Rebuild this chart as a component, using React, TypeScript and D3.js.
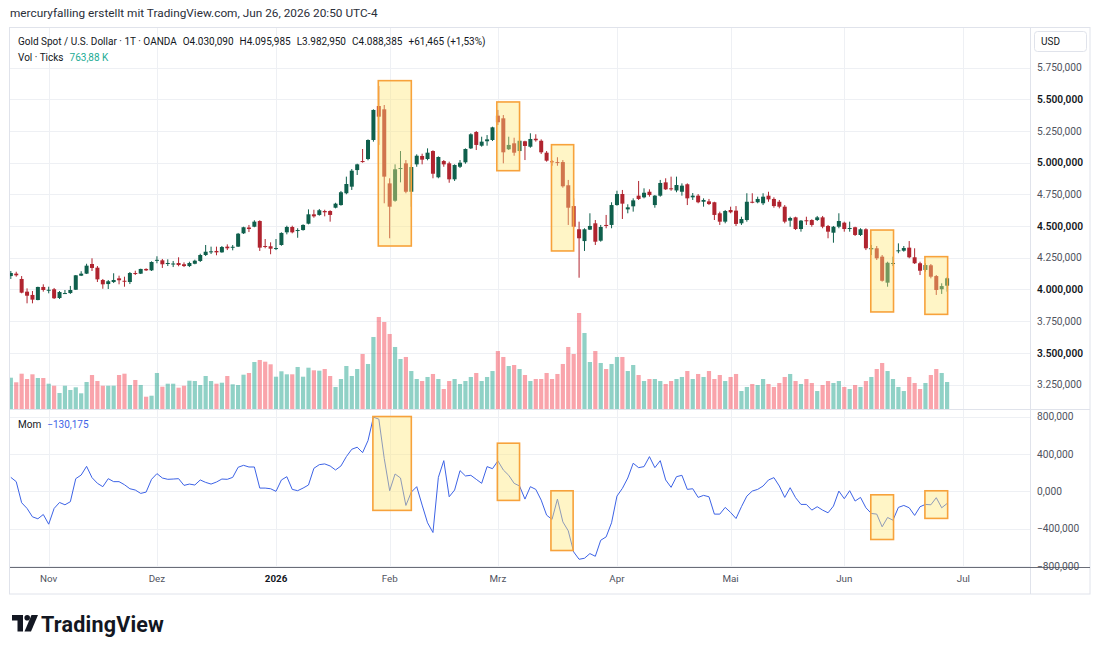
import React from "react";
import * as d3 from "d3";

// Daily XAU/USD candles (OANDA), Oct 23 2025 – Jun 26 2026, one entry per trading day
const opens = [
  4106, 4125, 4083, 3983, 3957, 3917, 4020, 3994, 4002, 3933,
  3968, 3972, 3998, 4109, 4125, 4201, 4172, 4075, 4043, 4059,
  4088, 4069, 4059, 4130, 4125, 4162, 4151, 4229, 4230, 4207,
  4203, 4209, 4199, 4185, 4203, 4225, 4272, 4296, 4304, 4293,
  4338, 4333, 4338, 4443, 4489, 4495, 4540, 4343, 4341, 4322,
  4351, 4451, 4493, 4464, 4469, 4519, 4593, 4588, 4619, 4619,
  4645, 4666, 4759, 4811, 4942, 5013, 5029, 5179, 5447, 5421,
  4837, 4700, 4950, 4995, 4771, 4987, 5053, 5029, 5092, 4885,
  5013, 4995, 4869, 4968, 5003, 5113, 5242, 5134, 5169, 5179,
  5371, 5350, 5106, 5153, 5092, 5169, 5126, 5189, 5173, 5079,
  5011, 5005, 5005, 4822, 4658, 4475, 4382, 4472, 4522, 4385,
  4509, 4509, 4666, 4753, 4632, 4656, 4740, 4727, 4771, 4666,
  4740, 4845, 4798, 4781, 4771, 4830, 4727, 4740, 4692, 4695,
  4688, 4601, 4535, 4627, 4622, 4522, 4548, 4692, 4688, 4680,
  4740, 4714, 4692, 4653, 4543, 4569, 4477, 4546, 4548, 4548,
  4569, 4501, 4448, 4495, 4527, 4479, 4491, 4430, 4475, 4317,
  4325, 4259, 4054, 4203, 4304, 4306, 4330, 4254, 4207, 4154,
  4191, 4106, 4002, 4030.09,
];

const highs = [
  4146, 4140, 4106, 4009, 3988, 4022, 4041, 4022, 4012, 3988,
  3996, 4028, 4114, 4144, 4203, 4246, 4185, 4083, 4075, 4128,
  4109, 4101, 4138, 4148, 4164, 4167, 4222, 4262, 4241, 4238,
  4225, 4254, 4214, 4219, 4235, 4282, 4351, 4338, 4338, 4343,
  4356, 4351, 4446, 4495, 4509, 4546, 4546, 4398, 4372, 4398,
  4451, 4503, 4503, 4483, 4514, 4632, 4629, 4635, 4629, 4625,
  4684, 4777, 4890, 4950, 4992, 5108, 5184, 5421, 5605, 5455,
  4877, 4987, 5092, 5021, 4982, 5066, 5071, 5113, 5098, 5050,
  5021, 5008, 4987, 5021, 5113, 5232, 5250, 5205, 5218, 5284,
  5416, 5376, 5205, 5197, 5179, 5173, 5232, 5224, 5184, 5092,
  5021, 5043, 5021, 4864, 4719, 4535, 4483, 4601, 4548, 4509,
  4588, 4688, 4779, 4785, 4672, 4719, 4856, 4798, 4790, 4745,
  4864, 4877, 4890, 4890, 4837, 4837, 4761, 4753, 4719, 4714,
  4692, 4614, 4627, 4653, 4658, 4574, 4759, 4759, 4732, 4759,
  4771, 4727, 4706, 4666, 4574, 4574, 4548, 4574, 4554, 4580,
  4580, 4509, 4501, 4601, 4535, 4535, 4495, 4483, 4483, 4351,
  4343, 4272, 4219, 4259, 4364, 4343, 4382, 4325, 4219, 4207,
  4201, 4114, 4049, 4095.985,
];

const lows = [
  4083, 4101, 3970, 3891, 3891, 3915, 3983, 3970, 3925, 3925,
  3965, 3965, 3996, 4106, 4122, 4146, 4059, 4006, 4004, 4051,
  4041, 4022, 4043, 4114, 4122, 4146, 4146, 4207, 4170, 4185,
  4177, 4183, 4177, 4177, 4199, 4217, 4264, 4280, 4270, 4290,
  4311, 4309, 4335, 4438, 4453, 4491, 4304, 4325, 4278, 4311,
  4345, 4435, 4443, 4408, 4464, 4514, 4566, 4582, 4577, 4535,
  4640, 4661, 4751, 4785, 4903, 5000, 5019, 5166, 5140, 4680,
  4404, 4692, 4845, 4759, 4653, 4968, 4987, 5019, 4877, 4877,
  4968, 4842, 4856, 4958, 4992, 5108, 5100, 5126, 5134, 5171,
  5297, 4995, 5100, 5055, 5082, 5021, 5118, 5166, 5069, 5008,
  4976, 4976, 4803, 4509, 4487, 4093, 4304, 4469, 4351, 4377,
  4483, 4483, 4661, 4556, 4601, 4614, 4706, 4719, 4732, 4645,
  4732, 4785, 4779, 4767, 4740, 4666, 4706, 4680, 4653, 4666,
  4548, 4509, 4522, 4601, 4501, 4509, 4535, 4680, 4680, 4666,
  4692, 4645, 4640, 4522, 4495, 4469, 4456, 4509, 4495, 4540,
  4483, 4404, 4369, 4483, 4456, 4456, 4422, 4422, 4311, 4272,
  4233, 4062, 4022, 4185, 4286, 4298, 4246, 4201, 4114, 4140,
  4088, 3957, 3965, 3982.95,
];

const closes = [
  4130, 4112, 3975, 3951, 3920, 4020, 3996, 3998, 3931, 3980,
  3972, 3996, 4112, 4125, 4188, 4170, 4080, 4041, 4065, 4075,
  4073, 4062, 4130, 4126, 4162, 4151, 4217, 4234, 4199, 4209,
  4205, 4193, 4185, 4209, 4227, 4272, 4298, 4301, 4293, 4335,
  4325, 4337, 4440, 4491, 4477, 4535, 4330, 4338, 4322, 4327,
  4446, 4493, 4451, 4469, 4509, 4593, 4577, 4625, 4609, 4588,
  4677, 4767, 4832, 4937, 4987, 5005, 5179, 5416, 5363, 4890,
  4653, 4948, 4958, 4771, 4966, 5055, 5024, 5079, 4913, 5045,
  4987, 4869, 4982, 5000, 5108, 5224, 5140, 5166, 5184, 5279,
  5319, 5082, 5140, 5079, 5173, 5132, 5187, 5177, 5082, 5016,
  5005, 5000, 4814, 4645, 4495, 4404, 4475, 4501, 4377, 4493,
  4503, 4666, 4753, 4677, 4648, 4703, 4714, 4763, 4745, 4740,
  4840, 4790, 4793, 4824, 4819, 4719, 4740, 4688, 4706, 4674,
  4588, 4535, 4619, 4609, 4517, 4556, 4692, 4684, 4714, 4732,
  4711, 4658, 4653, 4535, 4564, 4477, 4543, 4540, 4509, 4569,
  4495, 4456, 4495, 4540, 4477, 4485, 4430, 4475, 4325, 4327,
  4246, 4069, 4211, 4209, 4309, 4327, 4254, 4207, 4148, 4193,
  4101, 3996, 4026.92, 4088.385,
];

// Tick volume, thousands
const volumes = [
  886, 756, 999, 849, 982, 877, 877, 716, 659, 453,
  659, 538, 614, 444, 764, 962, 792, 659, 659, 660,
  962, 999, 679, 821, 680, 348, 376, 1019, 631, 716,
  716, 603, 659, 801, 792, 679, 934, 792, 716, 744,
  934, 699, 679, 971, 1019, 1330, 1387, 1339, 1265, 914,
  1067, 982, 982, 1189, 914, 1169, 1095, 1084, 1132, 934,
  623, 849, 1217, 934, 1132, 1557, 1274, 2038, 2604, 2462,
  2123, 1755, 1415, 1472, 1075, 849, 792, 906, 991, 849,
  566, 792, 849, 708, 792, 906, 1019, 792, 906, 1075,
  1641, 1472, 1217, 1245, 1132, 962, 792, 849, 849, 1019,
  849, 991, 1274, 1755, 1557, 2717, 2151, 1330, 1641, 1302,
  1132, 1274, 1472, 1472, 1075, 1245, 962, 792, 849, 849,
  792, 708, 792, 849, 906, 1075, 849, 991, 906, 1075,
  849, 962, 792, 906, 991, 509, 623, 708, 679, 849,
  708, 623, 736, 906, 991, 792, 708, 849, 736, 509,
  679, 792, 736, 792, 623, 566, 679, 623, 792, 906,
  1132, 1302, 1075, 849, 623, 509, 906, 736, 566, 736,
  962, 1132, 1019, 763.88,
];

// Momentum (10)
const momentum = [
  150, 104, -122, -183, -273, -294, -248, -352, -183, -119,
  -144, -111, 136, 175, 268, 147, 86, 50, 136, 104,
  104, 71, 28, 14, -22, -8, 129, 190, 143, 129,
  132, 136, 64, 78, 68, 122, 96, 78, 100, 132,
  129, 150, 258, 279, 261, 261, 35, 35, 28, 0,
  122, 157, 21, 7, 35, 68, 247, 286, 294, 272,
  229, 272, 372, 451, 473, 415, 544, 795, 774, 351,
  7, 186, 143, -151, -8, 50, -147, -337, -441, 150,
  329, -58, 14, 222, 165, 172, 129, 86, 265, 243,
  326, 229, 172, 86, 57, -83, 50, 21, -94, -255,
  -301, -83, -327, -423, -649, -728, -717, -667, -696, -524,
  -488, -337, -51, 32, 143, 301, 254, 265, 372, 254,
  329, 122, 43, 157, 172, 21, 28, -65, -43, -58,
  -244, -244, -172, -226, -291, -165, -51, 3, 21, 57,
  122, 147, 57, -65, 39, -68, -140, -140, -201, -165,
  -201, -230, -158, 3, -79, 7, -104, -65, -176, -237,
  -244, -380, -280, -309, -172, -151, -176, -258, -165, -140,
  -144, -68, -176, -130.175,
];

// Month boundaries on the time axis (bar index of the first session)
const monthLabels = ["Nov", "Dez", "2026", "Feb", "Mrz", "Apr", "Mai", "Jun", "Jul"];
const monthBars = [7, 27, 49, 70, 90, 112, 133, 154, 176];

const priceTicks = [3250, 3500, 3750, 4000, 4250, 4500, 4750, 5000, 5250, 5500, 5750];
const momTicks = [-800, -400, 0, 400, 800];

// Highlight rectangles: bar-index span and value span
const priceBoxFrom = [67.9, 89.8, 99.9, 158.9, 168.9];
const priceBoxTo = [74.0, 94.0, 104.0, 163.1, 173.1];
const priceBoxTop = [5647, 5479, 5142, 4469, 4259];
const priceBoxBottom = [4343, 4937, 4304, 3823, 3804];
const momBoxFrom = [66.9, 89.9, 99.8, 158.9, 168.9];
const momBoxTo = [74.0, 94.0, 103.9, 163.1, 173.1];
const momBoxTop = [802, 516, 6, -37, 6];
const momBoxBottom = [-204, -97, -634, -516, -290];

const UP = "#0f5f4c";
const DOWN = "#b0242f";
const VOL_UP = "rgba(8,153,129,0.45)";
const VOL_DOWN = "rgba(242,54,69,0.45)";
const MOM_COLOR = "#3d63e6";
const GRID = "#eef0f4";
const BORDER = "#e0e3eb";
const TEXT = "#131722";
const FONT = "Roboto, 'Liberation Sans', Arial, sans-serif";

const W = 1100;
const H = 652;
const PLOT_L = 10;
const PLOT_R = 1030;
const FRAME_R = 1090;
const PANE_TOP = 28;
const PANE_SEP = 409;
const AXIS_Y = 567;
const FRAME_B = 594;

const de = d3.formatLocale({ decimal: ",", thousands: ".", grouping: [3], currency: ["", ""], minus: "\u2212" });
const fmt3 = de.format(",.3f");
const fmt2 = de.format(",.2f");

export default function App() {
  const n = closes.length;
  const x = d3.scaleLinear().domain([0, n - 1]).range([10.82, 947.1]);
  const yPrice = d3.scaleLinear().domain([3250, 5750]).range([384.6, 67.6]);
  const yVol = d3.scaleLinear().domain([0, 2830]).range([PANE_SEP, PANE_SEP - 100]);
  const yMom = d3.scaleLinear().domain([-800, 800]).range([566, 416.7]);

  const bodyW = 4;
  const momLine = d3
    .line<number>()
    .x((_, i) => x(i))
    .y((d) => yMom(d))(momentum) as string;

  const last = n - 1;
  const change = closes[last] - closes[last - 1];
  const pct = (change / closes[last - 1]) * 100;

  const legendParts = [
    { t: "O", v: fmt3(opens[last]) },
    { t: "H", v: fmt3(highs[last]) },
    { t: "L", v: fmt3(lows[last]) },
    { t: "C", v: fmt3(closes[last]) },
  ];

  return (
    <svg
      width={W}
      height={H}
      viewBox={`0 0 ${W} ${H}`}
      style={{ position: "absolute", left: 0, top: 0, background: "#fff" }}
      fontFamily={FONT}
    >
      <defs>
        <clipPath id="pricePane">
          <rect x={PLOT_L} y={PANE_TOP} width={PLOT_R - PLOT_L} height={PANE_SEP - PANE_TOP} />
        </clipPath>
        <clipPath id="momPane">
          <rect x={PLOT_L} y={PANE_SEP + 1} width={PLOT_R - PLOT_L} height={AXIS_Y - PANE_SEP - 1} />
        </clipPath>
      </defs>
      <rect x={0} y={0} width={W} height={H} fill="#fff" />

      {/* snapshot caption */}
      <text x={10} y={17} fontSize={11.8} fill="#2a2e39">
        mercuryfalling erstellt mit TradingView.com, Jun 26, 2026 20:50 UTC-4
      </text>

      {/* frame */}
      <rect x={9.5} y={27.5} width={FRAME_R - 9.5} height={FRAME_B - 27.5} fill="none" stroke={BORDER} />

      {/* grid */}
      <g stroke={GRID} strokeWidth={1}>
        {monthBars.map((b, i) => (
          <line key={"v" + i} x1={Math.round(x(b)) + 0.5} x2={Math.round(x(b)) + 0.5} y1={PANE_TOP} y2={AXIS_Y} />
        ))}
        {priceTicks.map((p) => (
          <line key={"p" + p} x1={PLOT_L} x2={PLOT_R} y1={Math.round(yPrice(p)) + 0.5} y2={Math.round(yPrice(p)) + 0.5} />
        ))}
        {momTicks.map((m) => (
          <line key={"m" + m} x1={PLOT_L} x2={PLOT_R} y1={Math.round(yMom(m)) + 0.5} y2={Math.round(yMom(m)) + 0.5} />
        ))}
      </g>

      {/* volume + candles */}
      <g clipPath="url(#pricePane)">
        {volumes.map((v, i) => (
          <rect
            key={"vol" + i}
            x={x(i) - 2.1}
            y={yVol(v)}
            width={4.2}
            height={PANE_SEP - yVol(v)}
            fill={closes[i] >= opens[i] ? VOL_UP : VOL_DOWN}
          />
        ))}
        {closes.map((c, i) => {
          const o = opens[i];
          const col = c >= o ? UP : DOWN;
          const top = yPrice(Math.max(o, c));
          const bot = yPrice(Math.min(o, c));
          const cx = x(i);
          return (
            <g key={"c" + i}>
              <line x1={cx} x2={cx} y1={yPrice(highs[i])} y2={yPrice(lows[i])} stroke={col} strokeWidth={1} />
              <rect x={cx - bodyW / 2} y={top} width={bodyW} height={Math.max(1, bot - top)} fill={col} />
            </g>
          );
        })}
        {priceBoxFrom.map((f, i) => (
          <rect
            key={"pb" + i}
            x={x(f)}
            y={yPrice(priceBoxTop[i])}
            width={x(priceBoxTo[i]) - x(f)}
            height={yPrice(priceBoxBottom[i]) - yPrice(priceBoxTop[i])}
            fill="rgba(255,232,120,0.42)"
            stroke="#f7a23b"
            strokeWidth={1.6}
          />
        ))}
      </g>

      {/* momentum pane */}
      <g clipPath="url(#momPane)">
        <path d={momLine} fill="none" stroke={MOM_COLOR} strokeWidth={1} />
        {momBoxFrom.map((f, i) => (
          <rect
            key={"mb" + i}
            x={x(f)}
            y={yMom(momBoxTop[i])}
            width={x(momBoxTo[i]) - x(f)}
            height={yMom(momBoxBottom[i]) - yMom(momBoxTop[i])}
            fill="rgba(255,232,120,0.42)"
            stroke="#f7a23b"
            strokeWidth={1.6}
          />
        ))}
      </g>

      {/* pane separators */}
      <line x1={PLOT_L} x2={FRAME_R} y1={PANE_SEP + 0.5} y2={PANE_SEP + 0.5} stroke={BORDER} />
      <line x1={PLOT_R + 0.5} x2={PLOT_R + 0.5} y1={PANE_TOP} y2={FRAME_B} stroke={BORDER} />
      <line x1={PLOT_L} x2={FRAME_R} y1={AXIS_Y + 0.5} y2={AXIS_Y + 0.5} stroke="#6a6d78" />

      {/* legends */}
      <text x={18} y={45} fontSize={10} fill={TEXT}>
        <tspan>Gold Spot / U.S. Dollar · 1T · OANDA</tspan>
        {legendParts.map((p) => (
          <tspan key={p.t} dx={6}>
            {p.t}
            {p.v}
          </tspan>
        ))}
        <tspan dx={6}>
          {(change >= 0 ? "+" : "") + fmt3(change)} ({(pct >= 0 ? "+" : "") + fmt2(pct)}%)
        </tspan>
      </text>
      <text x={18} y={61} fontSize={10} fill={TEXT}>
        <tspan>Vol · Ticks</tspan>
        <tspan dx={6} fill="#22ab94">
          {fmt2(volumes[last])} K
        </tspan>
      </text>
      <text x={18} y={428} fontSize={10} fill={TEXT}>
        <tspan>Mom</tspan>
        <tspan dx={6} fill={MOM_COLOR}>
          {fmt3(momentum[last])}
        </tspan>
      </text>

      {/* price scale */}
      <rect x={1034.5} y={31.5} width={52} height={20} rx={3} fill="#fff" stroke={BORDER} />
      <text x={1041} y={45} fontSize={10} fill={TEXT}>
        USD
      </text>
      {priceTicks.map((p) => (
        <text
          key={"pt" + p}
          x={1037}
          y={yPrice(p) + 3.6}
          fontSize={10.2}
          fill={p % 500 === 0 ? TEXT : "#50535e"}
          fontWeight={p % 500 === 0 ? 600 : 400}
        >
          {fmt3(p)}
        </text>
      ))}
      {momTicks.map((m) => (
        <text key={"mt" + m} x={1037} y={yMom(m) + 3.6} fontSize={10.2} fill="#50535e">
          {fmt3(m)}
        </text>
      ))}

      {/* time scale */}
      {monthLabels.map((lab, i) => (
        <text
          key={"ml" + i}
          x={x(monthBars[i])}
          y={582}
          fontSize={9.8}
          textAnchor="middle"
          fill={lab === "2026" ? TEXT : "#50535e"}
          fontWeight={lab === "2026" ? 700 : 400}
        >
          {lab}
        </text>
      ))}

      {/* TradingView wordmark */}
      <g fill="#131722">
        <path d="M12 615 H23 V631.5 H17.5 V620.5 H12 Z" />
        <circle cx={27.2} cy={617.8} r={2.8} />
        <path d="M31.5 615 H38 L31 631.5 H24.5 Z" />
        <text x={41} y={631.5} fontSize={21.5} fontWeight={700} letterSpacing={0.2}>
          TradingView
        </text>
      </g>
    </svg>
  );
}
